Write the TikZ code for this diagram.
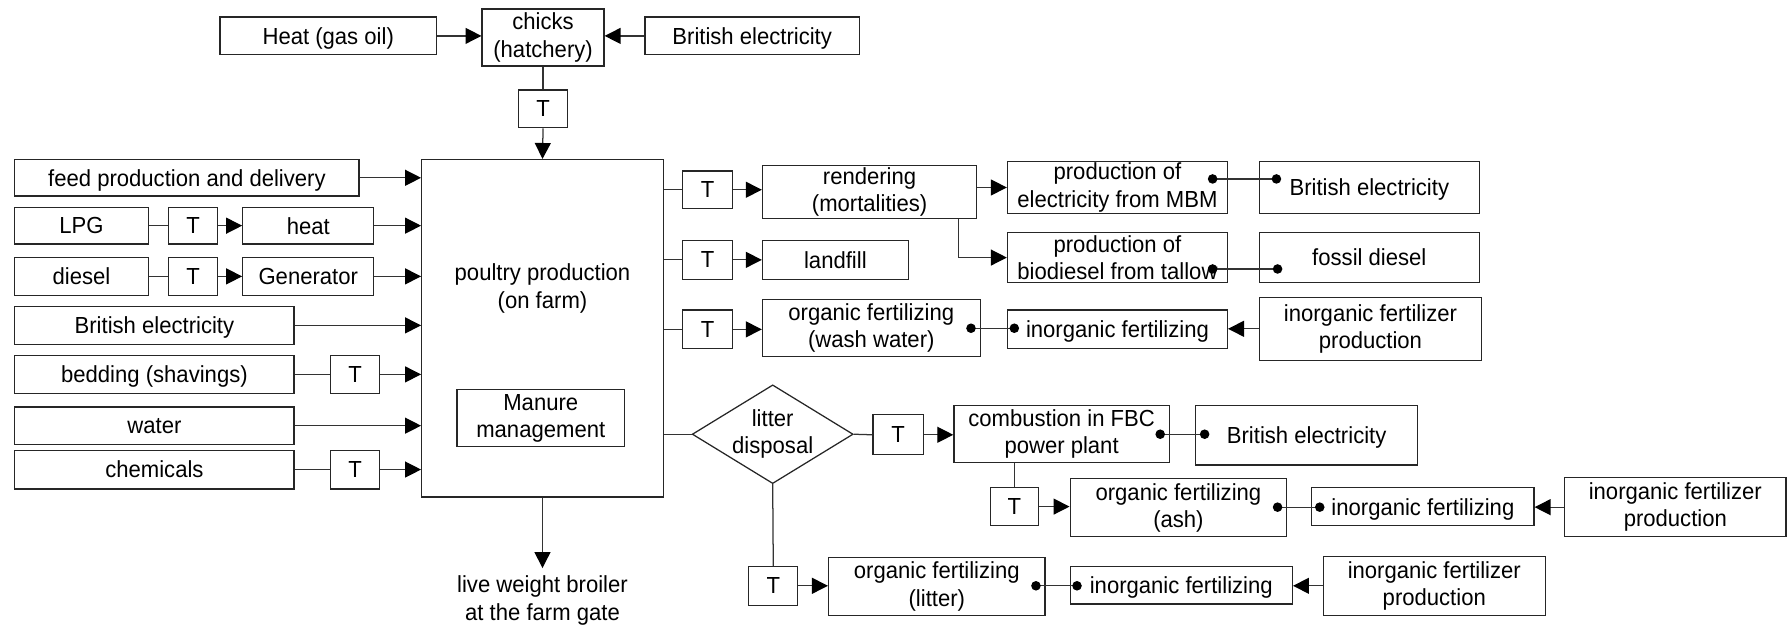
\documentclass[tikz,border=0pt]{standalone}
\usepackage{fontspec}
\setmainfont{Liberation Sans}[FakeStretch=0.95]
\usetikzlibrary{arrows.meta,shapes.geometric}
% box from corner (x1,y1) to corner (x2,y2), in drawing units; one line of text
\newcommand\bx[6]{\node[box, text depth=0pt, minimum width={(#4-(#2))*0.5pt}, minimum height={(#5-(#3))*0.5pt}] (#1) at ({(#2+#4)/2},{(#3+#5)/2}) {#6};}
% the same for two lines of text
\newcommand\bxx[6]{\node[box, minimum width={(#4-(#2))*0.5pt}, minimum height={(#5-(#3))*0.5pt}] (#1) at ({(#2+#4)/2},{(#3+#5)/2}) {#6};}
\begin{document}
\begin{tikzpicture}[x=0.5pt,y=-0.5pt,
  lbl/.style={align=center, font=\fontsize{10.2}{12}\selectfont},
  box/.style={lbl, draw=black!85, line width=0.55pt, fill=white, inner sep=0pt},
  link/.style={draw=black!80, line width=0.55pt},
  arr/.style={link, -{Triangle[length=7pt,width=7pt,color=black]}},
  dec/.style={lbl, diamond, draw=black!85, line width=0.55pt, inner sep=0pt, aspect=1.63, minimum width=70pt, minimum height=43pt}]
\useasboundingbox (0,0) rectangle (1568,553);

% hatchery
\bx{heatgas}{193}{15}{383}{48}{Heat (gas oil)}
\bxx{chicks}{423}{8}{530}{58}{chicks\\(hatchery)}
\bx{britA}{566}{15}{754}{48}{British electricity}
\bx{Ta}{455}{79}{498}{112}{T}

% farm
\bx{farm}{370}{140}{582}{436}{}
\node[lbl] (farmtxt) at (476,253) {poultry production\\(on farm)};
\bxx{manure}{401}{342}{548}{392}{Manure\\management}
\node[lbl] (out) at (476,527) {live weight broiler\\at the farm gate};

% inputs
\bx{feed}{13}{140}{315}{172}{feed production and delivery}
\bx{lpg}{13}{182}{130}{214}{LPG}
\bx{Tlpg}{148}{182}{191}{214}{T}
\bx{heat}{213}{182}{328}{214}{heat}
\bx{diesel}{13}{226}{130}{259}{diesel}
\bx{Tdie}{148}{226}{191}{259}{T}
\bx{gen}{213}{226}{328}{259}{Generator}
\bx{britB}{13}{269}{258}{302}{British electricity}
\bx{bed}{13}{312}{258}{345}{bedding (shavings)}
\bx{Tbed}{290}{312}{333}{345}{T}
\bx{water}{13}{357}{258}{390}{water}
\bx{chem}{13}{395}{258}{429}{chemicals}
\bx{Tchem}{290}{395}{333}{429}{T}

% outputs
\bx{Tr}{599}{150}{643}{183}{T}
\bxx{rend}{669}{145}{857}{192}{rendering\\(mortalities)}
\bxx{pelec}{884}{142}{1077}{187}{production of\\electricity from MBM}
\bx{britC}{1105}{142}{1298}{187}{British electricity}
\bxx{pbio}{884}{204}{1077}{248}{production of\\biodiesel from tallow}
\bx{fossil}{1105}{204}{1298}{248}{fossil diesel}
\bx{Tl}{599}{211}{643}{245}{T}
\bx{landfill}{669}{211}{797}{245}{landfill}
\bx{Tw}{599}{272}{643}{306}{T}
\bxx{orgw}{669}{263}{860}{313}{organic fertilizing\\(wash water)}
\bx{inorgA}{884}{272}{1077}{306}{inorganic fertilizing}
\bxx{ipA}{1105}{261}{1300}{316}{inorganic fertilizer\\production}

% litter
\node[dec] (litter) at (678,381) {litter\\disposal};
\bx{Tc}{766}{364}{810}{399}{T}
\bxx{comb}{837}{356}{1026}{406}{combustion in FBC\\power plant}
\bx{britD}{1049}{356}{1244}{408}{British electricity}
\bx{Tash}{869}{428}{911}{461}{T}
\bxx{orga}{939}{420}{1129}{471}{organic fertilizing\\(ash)}
\bx{inorgB}{1151}{428}{1346}{461}{inorganic fertilizing}
\bxx{ipB}{1373}{419}{1567}{471}{inorganic fertilizer\\production}
\bx{Tlit}{657}{497}{700}{531}{T}
\bxx{orgl}{727}{489}{917}{540}{organic fertilizing\\(litter)}
\bx{inorgC}{939}{497}{1134}{530}{inorganic fertilizing}
\bxx{ipC}{1161}{488}{1356}{540}{inorganic fertilizer\\production}

% hatchery connectors
\draw[arr] (heatgas.east) -- (heatgas.east -| chicks.west);
\draw[arr] (britA.west) -- (britA.west -| chicks.east);
\draw[link] (chicks.south) -- (Ta.north);
\draw[arr] (Ta.south) -- (farm.north);

% input connectors
\draw[arr] (feed.east) -- (feed.east -| farm.west);
\draw[link] (lpg.east) -- (Tlpg.west);
\draw[arr] (Tlpg.east) -- (heat.west);
\draw[arr] (heat.east) -- (heat.east -| farm.west);
\draw[link] (diesel.east) -- (Tdie.west);
\draw[arr] (Tdie.east) -- (gen.west);
\draw[arr] (gen.east) -- (gen.east -| farm.west);
\draw[arr] (britB.east) -- (britB.east -| farm.west);
\draw[link] (bed.east) -- (Tbed.west);
\draw[arr] (Tbed.east) -- (Tbed.east -| farm.west);
\draw[arr] (water.east) -- (water.east -| farm.west);
\draw[link] (chem.east) -- (Tchem.west);
\draw[arr] (Tchem.east) -- (Tchem.east -| farm.west);
\draw[arr] (farm.south) -- (out.north);

% output connectors
\draw[link] (Tr.west -| farm.east) -- (Tr.west);
\draw[arr] (Tr.east) -- (Tr.east -| rend.west);
\draw[arr] (rend.east |- pelec.west) -- (pelec.west);
\draw[arr] ([xshift=39pt]rend.south) |- (pbio.west);
\draw[link] (Tl.west -| farm.east) -- (Tl.west);
\draw[arr] (Tl.east) -- (landfill.west);
\draw[link] (Tw.west -| farm.east) -- (Tw.west);
\draw[arr] (Tw.east) -- (Tw.east -| orgw.west);
\draw[arr] (ipA.west) -- (ipA.west -| inorgA.east);
\draw[link] (litter.west -| farm.east) -- (litter.west);
\draw[link] (litter.east) -- (Tc.west);
\draw[arr] (Tc.east) -- (Tc.east -| comb.west);
\draw[link] (Tash.north |- comb.south) -- (Tash.north);
\draw[arr] (Tash.east) -- (Tash.east -| orga.west);
\draw[arr] (ipB.west) -- (ipB.west -| inorgB.east);
\draw[link] (litter.south) -- (Tlit.north);
\draw[arr] (Tlit.east) -- (Tlit.east -| orgl.west);
\draw[arr] (ipC.west) -- (ipC.west -| inorgC.east);

% substitution links, drawn dot to dot
\coordinate (d1a) at (1064,157); \coordinate (d1b) at (1120,157);
\coordinate (d2a) at (1064,236); \coordinate (d2b) at (1121,236);
\coordinate (d3a) at (852,288);  \coordinate (d3b) at (890,288);
\coordinate (d4a) at (1018,381); \coordinate (d4b) at (1057,381);
\coordinate (d5a) at (1121,445); \coordinate (d5b) at (1158,445);
\coordinate (d6a) at (909,514);  \coordinate (d6b) at (945,514);
\foreach \p in {1,...,6} {
  \draw[link] (d\p a) -- (d\p b);
  \fill (d\p a) circle[radius=2.1pt];
  \fill (d\p b) circle[radius=2.1pt];
}
\end{tikzpicture}
\end{document}
